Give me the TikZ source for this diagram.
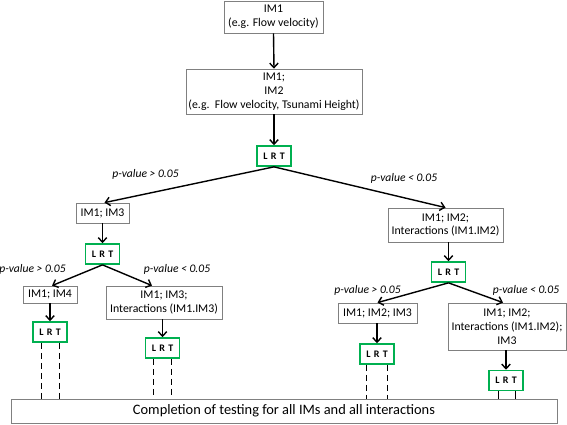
\documentclass[tikz,border=0pt]{standalone}
\usepackage{fontspec}
\setmainfont{Carlito}
\usetikzlibrary{arrows.meta}
\definecolor{boxgray}{RGB}{128,128,128}
\definecolor{lrtgreen}{RGB}{0,176,80}
\begin{document}
\begin{tikzpicture}[x=1pt,y=-1pt,
  imbox/.style={draw=boxgray,line width=0.8pt,fill=white,align=center,inner sep=0pt,font=\fontsize{11.8}{13.8}\selectfont},
  lrt/.style={draw=lrtgreen,line width=1.7pt,fill=white,inner sep=0pt,minimum width=34pt,minimum height=20pt,font=\fontsize{10}{11}\selectfont\bfseries},
  conn/.style={line width=1.4pt,-{Straight Barb[length=4.5pt,width=8.5pt,line width=1.4pt]}},
  pval/.style={inner sep=0pt,font=\fontsize{11.6}{13}\selectfont\itshape},
  dline/.style={line width=1pt,dash pattern=on 6pt off 4pt},
  sline/.style={line width=1pt}]
\useasboundingbox (0,0) rectangle (567,424);
\newcommand{\LRT}{L\,\,R\,\,T}
% boxes
\node[imbox,minimum width=99pt,minimum height=32pt] (b1) at (273.5,17) {IM1\\(e.g. Flow velocity)};
\node[imbox,minimum width=176pt,minimum height=45pt] (b2) at (274,91.5) {IM1;\\IM2\\(e.g.\ \ Flow velocity, Tsunami Height)};
\node[lrt] (l1) at (274,156) {\LRT};
\node[imbox,minimum width=53pt,minimum height=20pt] (b3) at (102.5,213) {IM1; IM3};
\node[lrt] (l2) at (102.5,254) {\LRT};
\node[imbox,minimum width=54pt,minimum height=17pt] (b4) at (50,294.5) {IM1; IM4};
\node[lrt] (l3) at (50,332) {\LRT};
\node[imbox,minimum width=116pt,minimum height=33pt] (b5) at (164,302.5) {IM1; IM3;\\Interactions (IM1.IM3)};
\node[lrt] (l4) at (162.5,348) {\LRT};
\node[imbox,minimum width=115pt,minimum height=34pt] (b6) at (445.5,225) {IM1; IM2;\\Interactions (IM1.IM2)};
\node[lrt] (l5) at (448.5,272) {\LRT};
\node[imbox,minimum width=79pt,minimum height=20pt] (b7) at (377.5,313) {IM1; IM2; IM3};
\node[lrt] (l6) at (377,354) {\LRT};
\node[imbox,minimum width=118pt,minimum height=47pt] (b8) at (507,326.5) {IM1; IM2;\\Interactions (IM1.IM2);\\IM3};
\node[lrt] (l7) at (506,380.5) {\LRT};
\node[imbox,minimum width=546pt,minimum height=24pt,font=\fontsize{14.4}{16}\selectfont] (comp) at (284,411) {Completion of testing for all IMs and all interactions};
% labels
\node[pval] (p1) at (145.5,174) {p-value > 0.05};
\node[pval] (p2) at (404,178) {p-value < 0.05};
\node[pval] (p3) at (32.5,269) {p-value > 0.05};
\node[pval] (p4) at (177,269) {p-value < 0.05};
\node[pval] (p5) at (367.5,290) {p-value > 0.05};
\node[pval] (p6) at (526,290) {p-value < 0.05};
% connectors
\draw[conn] (b1.south) -- (b2.north);
\draw[conn] (b2.south) -- (l1.north);
\draw[conn] (l1.south) -- ([xshift=2pt]b3.north);
\draw[conn] (l1.south) -- (b6.north);
\draw[conn] (b3.south) -- (l2.north);
\draw[conn] (l2.south) -- ([xshift=2pt]b4.north);
\draw[conn] (l2.south) -- ([xshift=-12pt]b5.north);
\draw[conn] (b4.south) -- (l3.north);
\draw[conn] (b5.south -| l4.north) -- (l4.north);
\draw[conn] (b6.south -| l5.north) -- (l5.north);
\draw[conn] (l5.south) -- (b7.north);
\draw[conn] (l5.south) -- ([xshift=-4pt]b8.north);
\draw[conn] (b7.south -| l6.north) -- (l6.north);
\draw[conn] (b8.south -| l7.north) -- (l7.north);
% to completion
\foreach \n/\d in {l3/9,l4/9,l6/10.5}{
  \draw[dline] ([xshift=-\d pt]\n.south) -- ([xshift=-\d pt]\n.south |- comp.north);
  \draw[dline] ([xshift=\d pt]\n.south) -- ([xshift=\d pt]\n.south |- comp.north);
}
\draw[sline] ([xshift=-8pt]l7.south) -- ([xshift=-8pt]l7.south |- comp.north);
\draw[sline] ([xshift=9pt]l7.south) -- ([xshift=9pt]l7.south |- comp.north);
\end{tikzpicture}
\end{document}
